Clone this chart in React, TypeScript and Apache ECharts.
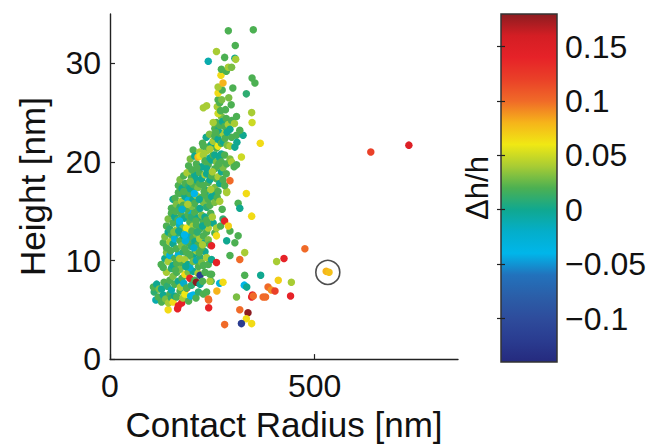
import React, { useEffect, useRef } from "react";
import * as echarts from "echarts";

// ---- axes / scales ----
const X_RANGE = [0, 850];
const Y_RANGE = [0, 35];
const C_RANGE = [-0.14, 0.18];
const X_TICKS = [0, 500];
const Y_TICKS = [0, 10, 20, 30];
const C_TICKS = [-0.1, -0.05, 0, 0.05, 0.1, 0.15];
const X_NAME = "Contact Radius [nm]";
const Y_NAME = "Height [nm]";
const C_NAME = "Δh/h";

// colormap, evenly spaced from C_RANGE[0] to C_RANGE[1]
const CMAP = [
  "#252a7e", "#2a3c90", "#2e4c9c", "#2b5ea8", "#2272bc", "#00b6ea", "#04aeca",
  "#10a890", "#4cb052", "#a8cc34", "#f0e814", "#f6b41a", "#f06a28", "#ea4028",
  "#e62228", "#d41e24", "#8c1c20",
];

// ---- data: [contact radius nm, height nm, Δh/h] ----
const BAND_05_07 = [
  [108, 6.8, 0.01], [112, 6.0, -0.01], [118, 6.3, 0.02], [126, 5.8, 0.02], [130, 6.5, 0.0],
  [136, 6.1, 0.03], [142, 5.0, 0.065], [143, 5.7, 0.04], [146, 6.6, 0.02], [150, 6.2, 0.01],
  [154, 5.8, 0.065], [158, 6.4, 0.0], [163, 6.3, 0.02], [165, 5.1, 0.14], [167, 5.4, 0.14],
  [171, 6.9, 0.02], [175, 5.7, 0.14], [178, 6.2, 0.04], [183, 6.6, 0.06], [188, 7.2, 0.12],
  [192, 5.9, 0.02], [197, 6.4, -0.03], [203, 6.5, -0.04], [210, 6.2, 0.02], [216, 6.8, 0.01],
  [228, 6.6, 0.02], [236, 6.8, 0.02], [240, 6.1, 0.1], [241, 6.0, 0.1], [241, 5.2, 0.14],
  [261, 6.9, 0.08],
];
const BAND_07_09 = [
  [106, 7.3, 0.02], [114, 7.6, 0.0], [120, 7.1, 0.03], [126, 7.1, 0.0], [132, 7.8, 0.02],
  [138, 8.8, 0.04], [140, 7.4, 0.01], [146, 8.0, 0.02], [150, 7.0, -0.01], [154, 8.4, 0.03],
  [158, 7.6, 0.02], [163, 8.8, 0.02], [167, 7.9, 0.0], [172, 7.3, 0.04], [176, 8.2, 0.02],
  [180, 7.7, -0.02], [183, 8.6, 0.065], [187, 7.2, 0.02], [191, 8.8, 0.03], [195, 8.2, 0.14],
  [199, 7.5, 0.01], [203, 8.9, 0.0], [207, 8.0, 0.02], [211, 7.8, 0.18], [215, 8.7, 0.04],
  [220, 8.5, -0.12], [220, 7.6, 0.0], [226, 7.9, 0.02], [232, 8.8, 0.02], [244, 8.6, 0.02],
  [247, 7.9, 0.02], [244, 7.9, 0.04], [268, 7.7, -0.03], [276, 7.8, 0.065],
];
const BAND_09_11 = [
  [125, 9.6, 0.02], [130, 9.3, 0.02], [134, 10.2, 0.0], [138, 10.8, 0.03], [142, 9.9, 0.04],
  [146, 10.5, -0.03], [150, 9.2, 0.01], [154, 9.5, 0.0], [158, 10.2, 0.02], [163, 9.7, 0.02],
  [167, 10.6, -0.03], [171, 9.1, 0.03], [175, 9.8, 0.02], [179, 10.9, 0.01], [183, 10.1, 0.04],
  [187, 10.8, 0.02], [191, 9.6, 0.0], [195, 9.3, -0.02], [199, 10.4, 0.02], [203, 9.9, 0.03],
  [207, 10.7, 0.0], [211, 10.0, -0.01], [211, 11.0, 0.04], [216, 9.4, 0.02], [220, 10.3, 0.01],
  [224, 9.8, 0.03], [228, 9.5, 0.02], [232, 10.9, 0.0], [236, 10.3, 0.04], [240, 9.6, 0.02],
  [248, 10.1, 0.0], [260, 9.8, 0.14],
];
const BAND_11_13 = [
  [130, 11.8, 0.02], [134, 12.4, 0.03], [138, 11.3, 0.02], [142, 12.9, 0.0], [146, 11.9, 0.04],
  [150, 12.6, 0.02], [154, 11.7, 0.0], [158, 12.2, -0.03], [162, 11.2, 0.02], [166, 12.8, 0.01],
  [171, 12.0, 0.02], [175, 11.5, 0.03], [179, 12.5, 0.0], [183, 11.2, 0.02], [187, 12.9, 0.04],
  [191, 11.8, 0.02], [195, 12.4, -0.02], [199, 11.4, 0.01], [203, 12.3, 0.02], [207, 11.9, 0.0],
  [211, 12.7, 0.03], [215, 11.6, 0.02], [219, 12.2, 0.04], [224, 11.3, 0.02], [228, 12.5, 0.02],
  [232, 11.8, 0.0], [236, 12.9, 0.02], [240, 12.1, 0.03], [244, 11.6, 0.02], [248, 11.5, 0.14],
  [256, 12.8, 0.02], [260, 12.5, 0.065], [285, 12.0, 0.0], [293, 13.0, 0.02], [305, 11.8, 0.02],
  [313, 12.5, 0.02],
];
const BAND_13_15 = [
  [138, 13.5, 0.02], [142, 14.2, 0.03], [146, 13.2, 0.01], [150, 14.8, 0.02], [154, 13.8, 0.02],
  [158, 14.4, 0.0], [162, 13.1, 0.04], [166, 14.1, 0.02], [170, 13.6, -0.02], [174, 14.7, 0.02],
  [178, 13.3, 0.03], [182, 14.3, 0.0], [187, 13.3, 0.06], [191, 14.6, 0.02], [195, 15.1, -0.03],
  [195, 13.9, 0.02], [199, 14.4, 0.01], [203, 13.5, 0.04], [207, 14.9, 0.02], [211, 13.6, 0.02],
  [215, 14.3, 0.0], [220, 13.2, 0.02], [224, 14.6, 0.03], [228, 13.9, 0.02], [232, 14.4, 0.0],
  [236, 14.1, 0.02], [240, 13.3, 0.04], [246, 14.8, 0.02], [252, 13.8, 0.0], [260, 13.3, 0.04],
  [270, 13.5, 0.02], [276, 14.2, 0.01], [280, 14.0, 0.14], [289, 13.5, 0.07], [346, 14.5, 0.065],
];
const BAND_15_17 = [
  [150, 15.3, 0.02], [154, 16.2, 0.0], [159, 16.3, 0.02], [162, 15.7, 0.03], [167, 16.9, 0.02],
  [171, 15.4, 0.01], [171, 16.8, 0.02], [175, 16.0, 0.04], [179, 15.6, 0.02], [183, 16.5, 0.0],
  [187, 15.2, 0.02], [187, 17.5, 0.09], [191, 16.1, -0.03], [195, 16.8, 0.02], [199, 15.5, 0.03],
  [203, 17.0, 0.02], [203, 16.2, 0.0], [207, 15.8, 0.02], [211, 16.6, 0.04], [215, 15.2, 0.02],
  [220, 15.3, 0.0], [224, 16.4, 0.02], [228, 15.9, 0.03], [232, 16.7, 0.02], [236, 15.4, 0.01],
  [236, 17.1, 0.0], [240, 16.2, 0.02], [244, 15.6, 0.02], [248, 16.5, 0.0], [252, 16.9, 0.0],
  [256, 15.9, 0.03], [262, 16.4, 0.02], [268, 16.0, 0.04], [274, 15.2, 0.02], [285, 17.0, 0.04],
  [285, 16.9, 0.04], [313, 15.8, 0.02], [317, 15.3, 0.0], [333, 16.8, 0.065],
];
const BAND_17_19 = [
  [167, 17.6, 0.02], [171, 18.2, 0.03], [176, 17.3, 0.0], [180, 18.6, 0.02], [184, 17.8, 0.02],
  [188, 18.9, 0.04], [192, 17.5, 0.01], [195, 17.3, 0.0], [199, 18.4, 0.02], [203, 19.0, 0.04],
  [203, 17.7, 0.02], [207, 18.7, 0.0], [211, 18.2, 0.0], [215, 17.4, 0.03], [219, 17.8, 0.02],
  [219, 18.9, 0.02], [224, 18.3, 0.0], [228, 17.6, 0.02], [232, 18.7, 0.04], [236, 18.8, 0.0],
  [240, 17.9, 0.02], [244, 18.2, 0.0], [248, 18.6, 0.02], [256, 17.4, 0.03], [260, 18.3, 0.02],
  [264, 18.5, 0.04], [268, 17.8, 0.0], [272, 19.0, 0.0], [276, 18.2, 0.02], [280, 17.6, 0.02],
  [293, 18.1, 0.1],
];
const BAND_19_21 = [
  [192, 19.6, 0.02], [196, 20.3, 0.03], [200, 19.2, 0.02], [203, 21.2, 0.02], [207, 20.6, 0.0],
  [211, 19.8, 0.02], [215, 20.5, 0.08], [219, 21.0, 0.04], [220, 20.6, 0.065], [224, 19.5, 0.0],
  [228, 20.7, 0.04], [232, 20.1, 0.02], [236, 21.1, 0.04], [240, 19.7, 0.02], [244, 20.4, 0.0],
  [248, 20.2, 0.0], [252, 20.7, 0.02], [256, 20.7, 0.0], [256, 19.3, 0.02], [260, 20.0, 0.03],
  [264, 19.6, 0.02], [268, 20.4, 0.0], [272, 20.8, 0.0], [272, 20.0, 0.02], [276, 19.4, 0.03],
  [280, 20.7, 0.02], [285, 19.8, 0.02], [293, 20.3, 0.03], [297, 20.0, 0.04], [303, 19.5, 0.02],
  [309, 19.7, 0.02], [321, 20.5, 0.05],
];
const BAND_21_23 = [
  [228, 21.6, 0.02], [235, 22.5, 0.0], [239, 21.5, 0.02], [243, 22.8, 0.03], [248, 21.8, 0.0],
  [252, 22.1, 0.04], [256, 22.6, 0.02], [260, 21.4, 0.02], [264, 21.6, 0.06], [264, 22.3, 0.0],
  [268, 22.9, 0.02], [272, 21.9, 0.02], [276, 22.9, 0.04], [277, 22.0, 0.0], [281, 22.4, 0.02],
  [286, 21.7, 0.03], [293, 21.6, 0.04], [297, 22.5, 0.02], [305, 21.5, 0.0], [309, 22.7, 0.02],
  [310, 22.0, 0.0], [325, 22.7, 0.0], [367, 21.9, 0.065],
];
const BAND_23_27 = [
  [256, 23.4, 0.02], [260, 24.0, 0.02], [264, 23.2, 0.0], [268, 23.7, 0.02], [272, 24.6, 0.03],
  [275, 24.1, 0.0], [280, 23.6, 0.02], [284, 24.4, 0.02], [289, 23.8, 0.04], [293, 23.3, 0.0],
  [297, 24.2, 0.02], [304, 23.9, 0.04], [309, 24.6, 0.02], [317, 23.2, 0.02], [264, 24.9, 0.05],
  [346, 25.0, 0.04], [347, 24.0, 0.05], [228, 25.5, 0.04], [236, 25.7, 0.04], [262, 25.6, 0.04],
  [268, 26.0, 0.02], [282, 25.3, 0.02], [264, 26.3, 0.02], [273, 26.3, 0.03], [333, 26.9, 0.01],
  [264, 27.0, 0.065], [274, 27.3, 0.02],
];
const BAND_TOP = [
  [264, 27.6, 0.04], [276, 28.0, 0.08], [271, 28.8, 0.065], [347, 28.5, 0.02], [354, 28.0, 0.02],
  [272, 29.4, 0.02], [284, 29.2, 0.02], [289, 29.6, 0.04], [297, 29.6, 0.03], [240, 30.2, -0.01],
  [305, 30.5, 0.0], [307, 30.4, 0.04], [280, 30.6, 0.02], [260, 31.2, 0.04], [306, 31.8, 0.02],
  [289, 33.3, 0.02], [350, 33.4, 0.02],
];
const CLOUD_FILL = [
  [160, 9.0, 0.02], [170, 10.2, 0.04], [185, 9.4, 0.0], [195, 10.6, 0.02], [205, 11.3, -0.02],
  [218, 10.8, 0.02], [226, 11.6, 0.04], [148, 11.0, 0.02], [156, 12.9, 0.03], [168, 13.0, 0.0],
  [184, 12.0, -0.03], [200, 13.0, 0.02], [213, 12.9, 0.01], [226, 13.5, 0.0], [238, 13.8, 0.02],
  [250, 14.4, 0.04], [160, 15.0, 0.02], [176, 15.2, -0.02], [190, 15.7, 0.04], [210, 14.0, 0.02],
  [218, 16.2, 0.0], [230, 17.0, 0.02], [246, 17.2, 0.04], [264, 17.0, 0.02], [180, 17.0, 0.02],
  [196, 18.0, 0.03], [212, 19.4, 0.02], [236, 19.3, 0.0], [250, 19.0, 0.04], [266, 19.8, 0.02],
  [284, 18.8, 0.02], [226, 21.9, 0.02], [244, 21.3, 0.04], [258, 23.0, 0.02], [286, 23.0, 0.0],
  [270, 25.2, 0.02], [296, 25.8, 0.02], [252, 24.0, 0.04], [300, 27.5, 0.02], [290, 26.5, 0.03],
  [170, 14.0, -0.04], [182, 12.6, -0.04], [206, 16.8, -0.04],
];
const OUTLIERS = [
  [293, 10.5, 0.02], [329, 10.8, 0.04], [317, 10.1, 0.1], [407, 9.9, 0.04], [425, 10.2, 0.14],
  [476, 11.2, 0.1], [528, 8.9, 0.08], [535, 8.8, 0.075], [368, 8.5, 0.0], [329, 8.5, 0.02],
  [248, 8.6, 0.02], [328, 7.5, -0.04], [334, 7.3, 0.0], [411, 8.0, 0.07], [386, 7.3, 0.1],
  [394, 7.0, 0.09], [403, 6.9, 0.12], [443, 7.8, 0.04], [309, 6.3, 0.03], [348, 6.5, 0.14],
  [346, 6.3, 0.14], [350, 6.4, 0.1], [374, 6.3, 0.1], [380, 6.3, 0.1], [441, 6.4, 0.14],
  [317, 5.0, 0.1], [337, 4.7, 0.18], [333, 4.1, 0.065], [321, 3.6, -0.12], [346, 3.6, 0.065],
  [280, 3.5, 0.1], [637, 21.0, 0.12], [730, 21.7, 0.15],
];
const HIGHLIGHT = [[532, 8.8]];

const POINTS = [
  ...BAND_05_07, ...BAND_07_09, ...BAND_09_11, ...BAND_11_13, ...BAND_13_15, ...BAND_15_17,
  ...BAND_17_19, ...BAND_19_21, ...BAND_21_23, ...BAND_23_27, ...BAND_TOP, ...CLOUD_FILL,
  ...OUTLIERS,
];

const FONT = "'Liberation Sans', Arial, Helvetica, sans-serif";
const TXT = "#111";
const AX = "#222";

function fmtC(v: number) {
  const s = String(Math.round(Math.abs(v) * 1000) / 1000);
  return v < 0 ? "\u2212" + s : s;
}

export default function App() {
  const ref = useRef<HTMLDivElement>(null);
  useEffect(() => {
    if (!ref.current) return;
    const chart = echarts.init(ref.current, undefined, { renderer: "svg" });
    const stops = CMAP.map((c, i) => ({ offset: 1 - i / (CMAP.length - 1), color: c })).reverse();
    const gradient = new echarts.graphic.LinearGradient(0, 0, 0, 1, stops);
    chart.setOption({
      animation: false,
      backgroundColor: "#fff",
      textStyle: { fontFamily: FONT },
      grid: [
        { left: 110, top: 14, width: 348, height: 349 },
        { left: 501, top: 14, width: 56, height: 348 },
      ],
      xAxis: [
        {
          gridIndex: 0, type: "value", min: X_RANGE[0], max: X_RANGE[1],
          name: X_NAME, nameLocation: "middle", nameGap: 43,
          nameTextStyle: { fontSize: 35, color: TXT, fontFamily: FONT },
          axisLine: { show: true, lineStyle: { color: AX, width: 1.4 } },
          axisTick: { show: true, inside: true, length: 5, customValues: X_TICKS, lineStyle: { color: AX, width: 1.2 } },
          axisLabel: { customValues: X_TICKS, fontSize: 32, color: TXT, margin: 11, fontFamily: FONT },
          splitLine: { show: false },
        },
        { gridIndex: 1, type: "value", min: 0, max: 1, show: false },
      ],
      yAxis: [
        {
          gridIndex: 0, type: "value", min: Y_RANGE[0], max: Y_RANGE[1],
          name: Y_NAME, nameLocation: "middle", nameGap: 60, nameRotate: 90,
          nameTextStyle: { fontSize: 35, color: TXT, fontFamily: FONT },
          axisLine: { show: true, lineStyle: { color: AX, width: 1.4 } },
          axisTick: { show: true, inside: true, length: 5, customValues: Y_TICKS, lineStyle: { color: AX, width: 1.2 } },
          axisLabel: { customValues: Y_TICKS, fontSize: 32, color: TXT, margin: 9, fontFamily: FONT },
          splitLine: { show: false },
        },
        {
          gridIndex: 1, type: "value", min: C_RANGE[0], max: C_RANGE[1], position: "right", z: 5,
          axisLine: { show: false },
          axisTick: { show: true, inside: true, length: 4, customValues: C_TICKS, lineStyle: { color: AX, width: 1.2 } },
          axisLabel: { customValues: C_TICKS, fontSize: 32, color: TXT, margin: 8, fontFamily: FONT, formatter: (v: number) => fmtC(v) },
          splitLine: { show: false },
        },
        {
          gridIndex: 1, type: "value", min: C_RANGE[0], max: C_RANGE[1], position: "left", z: 5,
          name: C_NAME, nameLocation: "middle", nameGap: 8, nameRotate: 90,
          nameTextStyle: { fontSize: 31, color: TXT, fontFamily: FONT },
          axisLine: { show: false },
          axisTick: { show: true, inside: true, length: 4, customValues: C_TICKS, lineStyle: { color: AX, width: 1.2 } },
          axisLabel: { show: false },
          splitLine: { show: false },
        },
      ],
      visualMap: {
        type: "continuous", show: false, dimension: 2, seriesIndex: 0,
        min: C_RANGE[0], max: C_RANGE[1], inRange: { color: CMAP },
      },
      series: [
        {
          type: "scatter", xAxisIndex: 0, yAxisIndex: 0, data: POINTS,
          symbol: "circle", symbolSize: 7.5, itemStyle: { opacity: 1 },
        },
        {
          type: "scatter", xAxisIndex: 0, yAxisIndex: 0, data: HIGHLIGHT,
          symbol: "circle", symbolSize: 24, z: 3,
          itemStyle: { color: "rgba(0,0,0,0)", borderColor: "#222", borderWidth: 1.6 },
        },
        {
          type: "custom", xAxisIndex: 1, yAxisIndex: 1, z: 1,
          data: [[0, C_RANGE[0]]],
          renderItem: (_p: any, api: any) => {
            const a = api.coord([0, C_RANGE[1]]);
            const b = api.coord([1, C_RANGE[0]]);
            return {
              type: "rect",
              shape: { x: a[0], y: a[1], width: b[0] - a[0], height: b[1] - a[1] },
              style: { fill: gradient, stroke: "#333", lineWidth: 1.5 },
            };
          },
        },
      ],
    });
    return () => chart.dispose();
  }, []);
  return (
    <div
      ref={ref}
      style={{ position: "fixed", left: 0, top: 0, width: 656, height: 447, background: "#fff" }}
    />
  );
}
